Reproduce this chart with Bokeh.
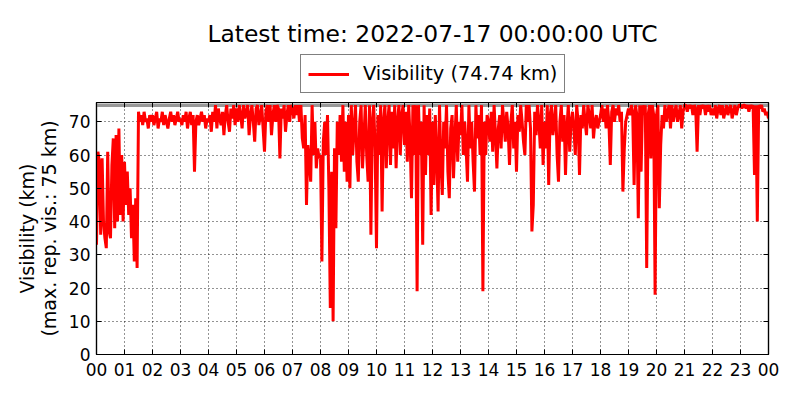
from bokeh.plotting import figure
from bokeh.layouts import column
from bokeh.models import (FixedTicker, Span, Legend, LegendItem, Range1d, ColumnDataSource, Label,
                          LinearAxis, CustomLabelingPolicy)
from bokeh.embed import file_html
from bokeh.resources import INLINE

title_text = "Latest time: 2022-07-17 00:00:00 UTC"
legend_label = "Visibility (74.74 km)"
y_label = "Visibility (km)\n(max. rep. vis.: 75 km)"
max_vis = 75
step_minutes = 3
hour_ticks = list(range(25))
hour_labels = ["%02d" % (h % 24) for h in hour_ticks]
y_ticks = [0, 10, 20, 30, 40, 50, 60, 70]

# visibility (km), one value every 3 minutes, one list per hour
vis_h00 = [33, 61, 58, 36, 59, 40, 35, 32, 61, 37, 35, 57, 65, 38, 66, 40, 68, 42, 60, 40]
vis_h01 = [58, 45, 55, 42, 50, 35, 45, 28, 47, 26, 73, 70, 72, 69, 73, 70, 71, 68, 72, 70]
vis_h02 = [72, 69, 71, 73, 68, 71, 70, 73, 69, 72, 70, 68, 71, 73, 70, 72, 69, 71, 73, 70]
vis_h03 = [71, 69, 72, 70, 73, 68, 71, 73, 69, 72, 55, 70, 72, 69, 71, 73, 70, 72, 68, 71]
vis_h04 = [70, 72, 67, 73, 70, 75, 68, 74, 71, 69, 73, 66, 72, 75, 70, 67, 74, 71, 75, 69]
vis_h05 = [74, 70, 75, 72, 68, 75, 71, 73, 75, 66, 72, 75, 70, 64, 74, 75, 69, 72, 75, 68]
vis_h06 = [61, 73, 75, 70, 75, 66, 72, 75, 70, 75, 74, 59, 74, 71, 75, 67, 72, 75, 70, 75]
vis_h07 = [74, 71, 75, 72, 75, 70, 75, 65, 62, 72, 45, 63, 58, 52, 75, 60, 70, 56, 62, 59]
vis_h08 = [60, 28, 64, 70, 60, 72, 50, 14, 55, 10, 62, 38, 70, 60, 72, 58, 75, 55, 70, 52]
vis_h09 = [72, 50, 75, 60, 68, 75, 58, 52, 70, 75, 56, 65, 75, 60, 52, 75, 36, 70, 75, 62]
vis_h10 = [32, 72, 60, 75, 43, 70, 75, 56, 70, 75, 57, 73, 62, 75, 56, 70, 75, 60, 72, 75]
vis_h11 = [63, 73, 58, 75, 65, 47, 75, 60, 75, 19, 75, 60, 70, 33, 75, 54, 72, 60, 74, 42]
vis_h12 = [70, 51, 72, 60, 43, 75, 58, 48, 70, 62, 75, 55, 47, 68, 72, 53, 65, 75, 58, 70]
vis_h13 = [66, 75, 60, 70, 62, 52, 75, 62, 70, 58, 49, 75, 65, 72, 60, 75, 19, 70, 60, 72]
vis_h14 = [70, 64, 73, 61, 75, 66, 56, 68, 72, 62, 75, 70, 64, 73, 68, 57, 70, 75, 62, 70]
vis_h15 = [55, 72, 67, 75, 70, 64, 60, 75, 70, 75, 68, 37, 45, 73, 66, 75, 70, 62, 75, 57]
vis_h16 = [70, 62, 75, 51, 72, 75, 66, 70, 75, 60, 52, 70, 75, 64, 72, 54, 68, 75, 61, 70]
vis_h17 = [73, 68, 60, 75, 70, 54, 72, 68, 75, 70, 66, 75, 72, 68, 75, 65, 70, 72, 68, 70]
vis_h18 = [72, 75, 70, 74, 68, 75, 70, 57, 73, 75, 70, 74, 72, 75, 70, 73, 49, 62, 70, 72]
vis_h19 = [74, 72, 75, 73, 51, 75, 72, 41, 75, 55, 75, 72, 75, 26, 72, 75, 59, 75, 72, 18]
vis_h20 = [72, 75, 44, 63, 72, 68, 75, 70, 73, 75, 68, 75, 70, 73, 75, 70, 72, 75, 68, 73]
vis_h21 = [75, 75, 73, 75, 74, 75, 72, 75, 74, 61, 75, 72, 75, 74, 75, 72, 75, 73, 75, 72]
vis_h22 = [74, 72, 75, 71, 74, 75, 72, 75, 71, 73, 75, 72, 74, 75, 71, 73, 75, 72, 74, 75]
vis_h23 = [75, 74, 75, 75, 74, 75, 73, 75, 74, 75, 54, 75, 40, 75, 74, 75, 73, 74, 72, 73]
vis_end = [71]

values = (vis_h00 + vis_h01 + vis_h02 + vis_h03 + vis_h04 + vis_h05 + vis_h06 + vis_h07
          + vis_h08 + vis_h09 + vis_h10 + vis_h11 + vis_h12 + vis_h13 + vis_h14 + vis_h15
          + vis_h16 + vis_h17 + vis_h18 + vis_h19 + vis_h20 + vis_h21 + vis_h22 + vis_h23
          + vis_end)
hours = [i * step_minutes / 60.0 for i in range(len(values))]
src = ColumnDataSource(data=dict(t=hours, v=values))

FONT = "DejaVu Sans"
RED = "#ff0000"
LINE_W = 3.0
BORDER_L = 96
BORDER_R = 16

# ---- header: title + legend --------------------------------------------
head = figure(frame_width=672, frame_height=94, output_backend="svg", toolbar_location=None,
              x_range=Range1d(0, 1), y_range=Range1d(0, 1),
              x_axis_type=None, y_axis_type=None,
              min_border_left=BORDER_L, min_border_right=BORDER_R,
              min_border_top=0, min_border_bottom=0)
head.grid.visible = False
head.outline_line_color = None
head.background_fill_color = "white"
head.border_fill_color = "white"

head.add_layout(Label(x=336, y=61, x_units="screen", y_units="screen", text=title_text,
                      text_align="center", text_baseline="alphabetic",
                      text_font=FONT, text_font_size="23.4px", text_color="black"))

# legend key: same series, lies outside this header's (empty) range, so only the key shows
key = head.line("t", "v", source=src, line_color=RED, line_width=LINE_W)
legend = Legend(items=[LegendItem(label=legend_label, renderers=[key])],
                location=(204, 1), orientation="horizontal",
                border_line_color="black", border_line_width=1,
                label_text_font=FONT, label_text_font_size="19.4px", label_text_color="black",
                glyph_width=41, glyph_height=20, label_standoff=14, padding=7,
                margin=0, spacing=0, background_fill_color="white", background_fill_alpha=1)
head.add_layout(legend)

# ---- main plot ----------------------------------------------------------
p = figure(frame_width=672, frame_height=252, output_backend="svg", toolbar_location=None,
           x_range=Range1d(0, 24), y_range=Range1d(0, 75.8),
           min_border_left=BORDER_L, min_border_right=BORDER_R,
           min_border_bottom=38, min_border_top=8)
p.background_fill_color = "white"
p.border_fill_color = "white"
p.outline_line_color = "black"
p.outline_line_width = 1.2

# axes on top and right only carry the inward ticks (their labels are filtered out)
no_labels = CustomLabelingPolicy(code="return new Set()")
p.add_layout(LinearAxis(major_label_policy=no_labels), "above")
p.add_layout(LinearAxis(major_label_policy=no_labels), "right")

for ax in p.xaxis + p.yaxis:
    ax.axis_line_color = "black"
    ax.axis_line_width = 1.2
    ax.major_tick_in = 5
    ax.major_tick_out = 0
    ax.major_tick_line_color = "black"
    ax.minor_tick_line_color = None
    ax.major_label_text_font = FONT
    ax.major_label_text_font_size = "17px"
    ax.major_label_text_color = "black"

for ax in p.xaxis:
    ax.ticker = FixedTicker(ticks=hour_ticks)
for ax in p.yaxis:
    ax.ticker = FixedTicker(ticks=y_ticks)

xb = p.below[0]
xb.major_label_overrides = {t: lab for t, lab in zip(hour_ticks, hour_labels)}
xb.major_label_standoff = 8
yl = p.left[0]
yl.major_label_standoff = 6
yl.axis_label = y_label
yl.axis_label_text_font = FONT
yl.axis_label_text_font_size = "19px"
yl.axis_label_text_font_style = "normal"
yl.axis_label_text_color = "black"
yl.axis_label_text_line_height = 1.0
yl.axis_label_standoff = 6

for ax in (p.above[0], p.right[0]):
    ax.major_label_text_font_size = "2px"
    ax.major_label_standoff = 0

p.xgrid.ticker = FixedTicker(ticks=hour_ticks)
p.ygrid.ticker = FixedTicker(ticks=y_ticks)
p.grid.grid_line_color = "black"
p.grid.grid_line_dash = "1 3"
p.grid.grid_line_width = 1
p.grid.grid_line_alpha = 0.85

max_line = Span(location=max_vis, dimension="width", line_color="#999999",
                line_width=3.5, level="underlay")
p.add_layout(max_line)

p.line("t", "v", source=src, line_color=RED, line_width=LINE_W)

layout = column(head, p, spacing=0)
open("out.html", "w").write(file_html(layout, INLINE))
